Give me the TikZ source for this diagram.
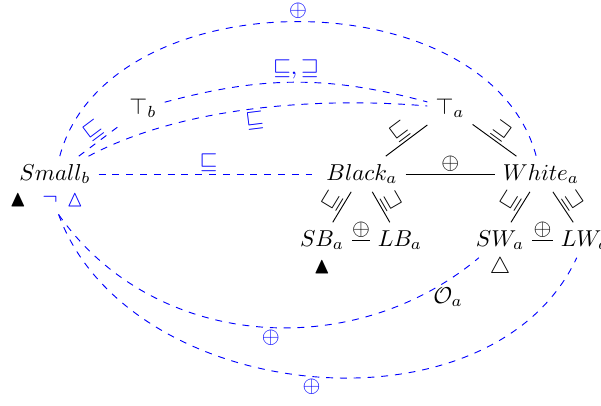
\documentclass[tikz,border=0pt]{standalone}
\usepackage{amssymb}
\begin{document}
\begin{tikzpicture}[x=0.435pt,y=-0.435pt,
  lab/.style={inner sep=1pt},
  dl/.style={blue,dashed}]
\useasboundingbox (0,0) rectangle (601,405);
% nodes
\node (small) at (55,174) {$Small_b$};
\node (tb) at (143,108) {$\top_b$};
\node (ta) at (450,108) {$\top_a$};
\node (black) at (362,174) {$Black_a$};
\node (white) at (541,174) {$White_a$};
\node (sb) at (322,240) {$SB_a$};
\node (lb) at (400,240) {$LB_a$};
\node (sw) at (500,240) {$SW_a$};
\node (lw) at (585,240) {$LW_a$};
\node (sbm) at (322,267) {$\blacktriangle$};
\node (swm) at (500,268) {$\triangle$};
\node (oa) at (448,297) {$\mathcal{O}_a$};
\node (lm) at (18,200) {$\blacktriangle$};
\node[blue] (neg) at (50,200) {$\neg$};
\node[blue] (vt) at (75,200) {$\vartriangle$};
% tree edges
\draw (ta) -- node[lab,sloped,above]{$\sqsubseteq$} (black);
\draw (ta) -- node[lab,sloped,above]{$\sqsupseteq$} (white);
\draw (black) -- node[lab,above]{$\oplus$} (white);
\draw (black) -- node[lab,sloped,above]{$\sqsubseteq$} (sb);
\draw (black) -- node[lab,sloped,above]{$\sqsupseteq$} (lb);
\draw (white) -- node[lab,sloped,above]{$\sqsubseteq$} (sw);
\draw (white) -- node[lab,sloped,above]{$\sqsupseteq$} (lw);
\draw (sb) -- node[lab,above]{$\oplus$} (lb);
\draw (sw) -- node[lab,above]{$\oplus$} (lw);
% dashed edges
\draw[dl] (small) -- node[lab,above]{$\sqsubseteq$} (black);
\draw[dl] (small) -- node[lab,sloped,above]{$\sqsubseteq$} (tb);
\draw[dl] (tb) to[out=15,in=165] node[lab,above]{$\sqsubseteq,\sqsupseteq$} (ta);
\draw[dl] (small) to[out=28,in=175,looseness=0.8] node[lab,sloped,below]{$\sqsubseteq$} (ta);
\draw[dl] (small) to[out=75,in=105] node[lab,above]{$\oplus$} (white);
\draw[dl] (vt.south west) to[out=-55,in=220] node[lab,pos=0.53,below]{$\oplus$} (sw);
\draw[dl] (vt.south west) to[out=-70,in=245] node[lab,below]{$\oplus$} (lw);
\end{tikzpicture}
\end{document}
